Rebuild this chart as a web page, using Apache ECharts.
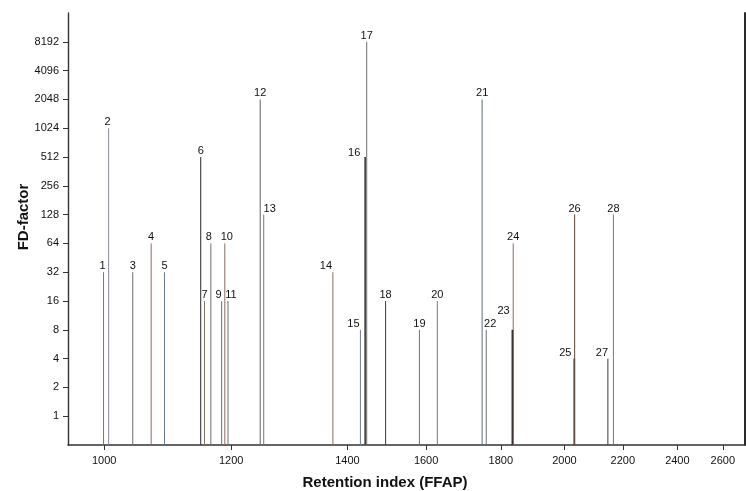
<!DOCTYPE html>
<html><head><meta charset="utf-8">
<script src="https://cdn.jsdelivr.net/npm/echarts@6/dist/echarts.min.js"></script>
<style>html,body{margin:0;padding:0;background:#fff}#c{width:746px;height:491px}</style>
</head><body><div id="c"></div>
<script>
// ---- data ----
const peakLabels = ['1','2','3','4','5','6','7','8','9','10','11','12','13','14','15','16','17','18','19','20','21','22','23','24','25','26','27','28'];
const retentionIndex = [999,1007,1045,1074,1095,1152,1158,1168,1185,1190,1195,1250,1256,1375,1433,1445,1449,1497,1583,1630,1750,1761,1837,1839,2034,2035,2149,2168];
const fdFactor = [32,1024,32,64,32,512,16,64,16,64,16,2048,128,32,8,512,8192,16,8,16,2048,8,8,64,4,128,4,128];
const xTickLabels = [1000,1200,1400,1600,1800,2000,2200,2400,2600];
const yTickLabels = [1,2,4,8,16,32,64,128,256,512,1024,2048,4096,8192];

// ---- axis scale of the original (non-linear retention-index axis) ----
const xScaleStops = [0,127,243.3,322,396.7,460.3,518.7,573.3,618.7];
const xRange = [943, 2698];
const yRange = [0.5, 16384];

// ---- styles ----
const BR='#8c6e5e', GR='#6e6e6e', BL='#6a7a92', DK='#3a3a3a', BK='#1a1a1a';
const peakColors = [BR,'#8a86a6',GR,BR,BL,DK,BR,GR,GR,BR,GR,GR,BL,BR,BL,DK,GR,DK,BR,BL,BL,GR,BK,BR,BK,'#6b5448',DK,BL];
const peakWidths = [1,1,1,1,1,1.1,1,1,1,1,1,1.1,1,1,1,1.6,1,1,1,1,1.1,1,2,1,1.6,1.1,1,1];
const labelShift = [[-1,0],[-1,0],[0,0],[0,0],[0,0],[0,0],[0,0],[-2,0],[-3,0],[2,0],[3,0],[0,0],[6,0],[-7,0],[-7,0],[-11,2],[0,0],[0,0],[0,0],[0,0],[0,0],[4,0],[-9,-13],[0,0],[-9,0],[0,0],[-6,0],[0,0]];

function warp(ri){
  const k = xTickLabels, u = xScaleStops, n = k.length;
  let i = 0;
  if (ri >= k[n-1]) i = n-2;
  else if (ri > k[0]) { while (ri > k[i+1]) i++; }
  return u[i] + (ri - k[i]) * (u[i+1]-u[i]) / (k[i+1]-k[i]);
}
function unwarp(v){
  const k = xTickLabels, u = xScaleStops, n = k.length;
  let i = 0;
  if (v >= u[n-1]) i = n-2;
  else if (v > u[0]) { while (v > u[i+1]) i++; }
  return k[i] + (v - u[i]) * (k[i+1]-k[i]) / (u[i+1]-u[i]);
}

const FONT = '"Liberation Sans", Arial, Helvetica, sans-serif';
const yMin = Math.log2(yRange[0]);
const seriesData = retentionIndex.map((ri,i)=>[warp(ri), Math.log2(fdFactor[i]), i]);

const chart = echarts.init(document.getElementById('c'), null, {renderer:'canvas'});
chart.setOption({
  animation:false,
  backgroundColor:'#fff',
  grid:{left:68, right:1, top:13, bottom:46},
  xAxis:{
    type:'value', min:warp(xRange[0]), max:warp(xRange[1]),
    splitLine:{show:false},
    axisLine:{onZero:false, lineStyle:{color:'#333', width:1.5}},
    axisTick:{customValues: xTickLabels.map(warp), length:5, lineStyle:{color:'#333', width:1}},
    axisLabel:{customValues: xTickLabels.map(warp), margin:10, color:'#111', fontSize:11, fontFamily:FONT,
      formatter:v=>String(Math.round(unwarp(v)))}
  },
  yAxis:[{
    type:'value', min:yMin, max:Math.log2(yRange[1]),
    splitLine:{show:false},
    axisLine:{show:true, onZero:false, lineStyle:{color:'#333', width:1.4}},
    axisTick:{show:true, customValues: yTickLabels.map(Math.log2), length:5, lineStyle:{color:'#333', width:1}},
    axisLabel:{customValues: yTickLabels.map(Math.log2), margin:9, color:'#111', fontSize:11, fontFamily:FONT,
      formatter:v=>String(Math.round(Math.pow(2, v)))}
  },{
    type:'value', position:'right', min:yMin, max:Math.log2(yRange[1]),
    splitLine:{show:false},
    axisLine:{show:true, onZero:false, lineStyle:{color:'#2a2a2a', width:2}},
    axisTick:{show:false}, axisLabel:{show:false}
  }],
  series:[{
    type:'custom', clip:false,
    data: seriesData,
    renderItem:function(params, api){
      const i = api.value(2);
      const x = api.value(0), y = api.value(1);
      const base = api.coord([x, yMin]);
      const top = api.coord([x, y]);
      const sh = labelShift[i];
      return {type:'group', children:[
        {type:'line', shape:{x1:base[0], y1:base[1], x2:top[0], y2:top[1]},
          style:{stroke:peakColors[i], lineWidth:peakWidths[i]}},
        {type:'text', x:top[0]+sh[0], y:top[1]-6+sh[1],
          style:{text:peakLabels[i], align:'center', verticalAlign:'middle', font:'11px '+FONT, fill:'#111'}}
      ]};
    }
  }],
  graphic:[
    {type:'text', x:385, y:483, style:{text:'Retention index (FFAP)', align:'center', verticalAlign:'middle', font:'bold 15px '+FONT, fill:'#111'}},
    {type:'text', x:24, y:217, rotation:Math.PI/2, style:{text:'FD-factor', align:'center', verticalAlign:'middle', font:'bold 15px '+FONT, fill:'#111'}}
  ]
});
</script>
</body></html>
